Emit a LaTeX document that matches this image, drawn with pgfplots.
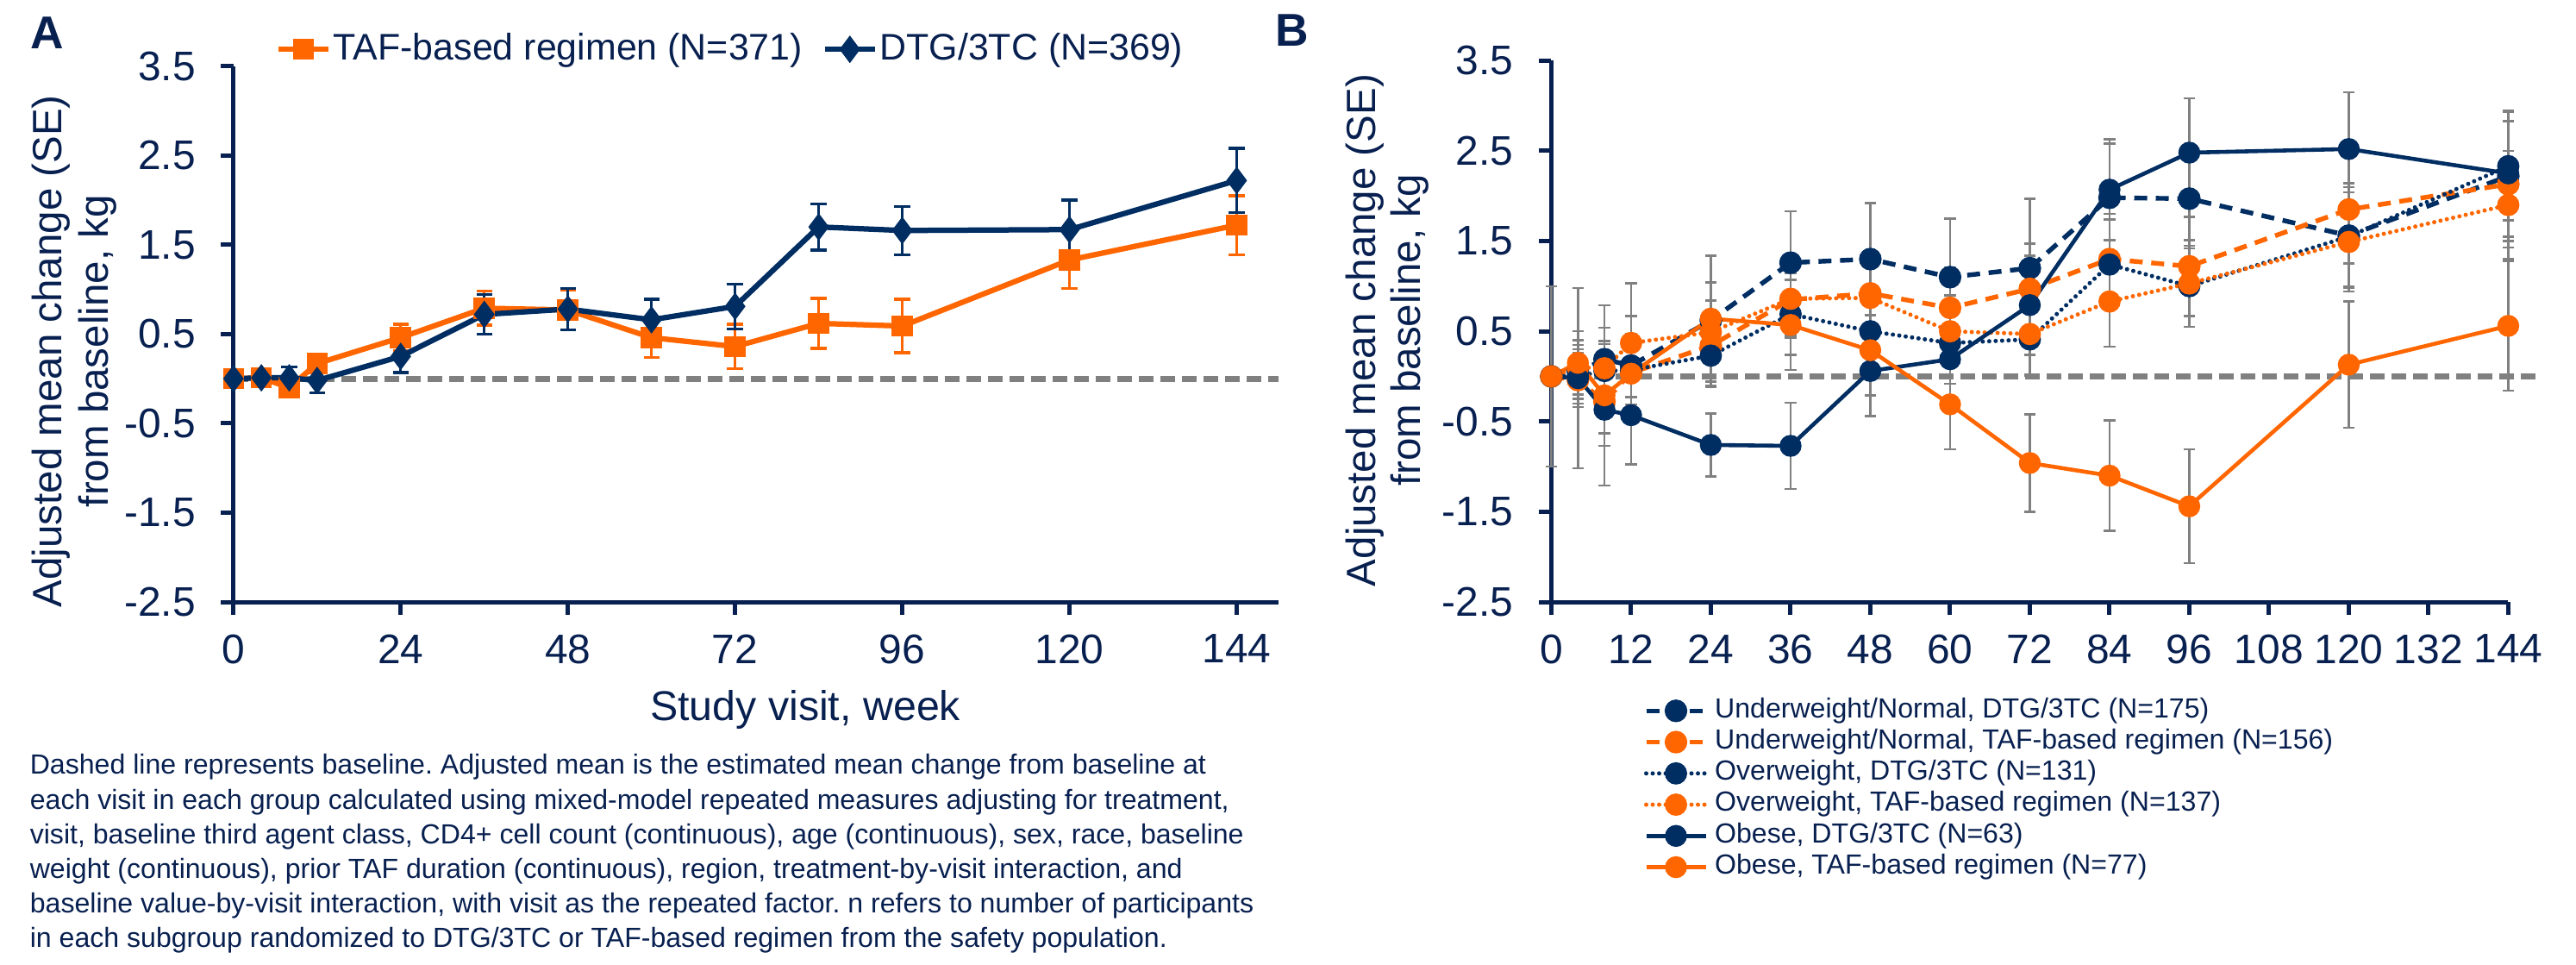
\documentclass[border=0pt]{standalone}
\usepackage{pgfplots}
\pgfplotsset{compat=1.18}
\usepackage{fontspec}
\setmainfont{Liberation Sans}
\definecolor{navy}{RGB}{0,45,98}
\definecolor{txt}{RGB}{8,32,80}
\definecolor{orng}{RGB}{255,102,0}
\definecolor{bgray}{RGB}{128,128,128}
\newcommand\fs[2]{\fontsize{#1}{#2}\selectfont}

\pgfplotstableread{
x y e
0 0 0
4 0.01 0.06
8 -0.10 0.08
12 0.17 0.10
24 0.46 0.15
36 0.79 0.19
48 0.77 0.22
60 0.46 0.22
72 0.36 0.25
84 0.62 0.28
96 0.59 0.30
120 1.33 0.32
144 1.72 0.33
}\aTAF
\pgfplotstableread{
x y e
0 0 0
4 0.01 0.06
8 0.01 0.12
12 -0.02 0.14
24 0.25 0.18
36 0.72 0.22
48 0.78 0.23
60 0.66 0.23
72 0.81 0.25
84 1.70 0.26
96 1.66 0.27
120 1.67 0.33
144 2.22 0.36
}\aDTG

\pgfplotstableread{
x y e
0 0 0
4 0.05 0.30
8 0.19 0.35
12 0.12 0.35
24 0.62 0.72
36 1.26 0.57
48 1.30 0.62
60 1.10 0.65
72 1.20 0.77
84 1.98 0.60
96 1.97 0.55
120 1.56 0.58
144 2.22 0.72
}\bUNDTG
\pgfplotstableread{
x y e
0 0 0
4 -0.04 0.30
8 -0.28 0.35
12 0.04 0.35
24 0.34 0.40
36 0.85 0.42
48 0.92 0.45
60 0.76 0.45
72 0.97 0.50
84 1.30 0.50
96 1.22 0.55
120 1.85 0.60
144 2.13 0.70
}\bUNTAF
\pgfplotstableread{
x y e
0 0 0
4 0.00 0.30
8 0.06 0.30
12 0.07 0.30
24 0.23 0.35
36 0.69 0.45
48 0.50 0.40
60 0.37 0.45
72 0.41 0.40
84 1.24 0.50
96 1.00 0.45
120 1.55 0.55
144 2.33 0.60
}\bOWDTG
\pgfplotstableread{
x y e
0 0 0
4 0.10 0.30
8 0.09 0.30
12 0.37 0.30
24 0.49 0.35
36 0.86 0.40
48 0.87 0.40
60 0.50 0.40
72 0.47 0.45
84 0.83 0.50
96 1.03 0.48
120 1.49 0.55
144 1.90 0.60
}\bOWTAF
\pgfplotstableread{
x y e
0 0 0
4 -0.02 1.00
8 -0.37 0.40
12 -0.43 0.55
24 -0.76 0.35
36 -0.77 0.48
48 0.06 0.50
60 0.19 0.50
72 0.79 0.55
84 2.07 0.56
96 2.48 0.60
120 2.52 0.63
144 2.25 0.70
}\bOBDTG
\pgfplotstableread{
x y e
0 0 1.00
4 0.15 0.35
8 -0.21 1.00
12 0.03 1.00
24 0.64 0.40
36 0.57 0.50
48 0.29 0.50
60 -0.31 0.50
72 -0.96 0.54
84 -1.10 0.61
96 -1.44 0.63
120 0.13 0.70
144 0.56 0.72
}\bOBTAF

\pgfplotsset{
  panel/.style={
    scale only axis, clip=false,
    ymin=-2.5, ymax=3.5,
    axis x line*=bottom, axis y line*=left,
    axis line style={txt, line width=1.2pt},
    ytick={-2.5,-1.5,-0.5,0.5,1.5,2.5,3.5},
    yticklabels={-2.5,-1.5,-0.5,0.5,1.5,2.5,3.5},
    tick align=outside, major tick length=3.5pt,
    tick style={txt, line width=1.2pt},
    tick label style={font=\fs{11.5}{13}, text=txt},
    yticklabel style={xshift=-3.5pt},
    xticklabel style={yshift=-2pt},
    error bars/y dir=both, error bars/y explicit,
  },
}

\begin{document}
\frenchspacing
\begin{tikzpicture}
\path[use as bounding box] (0,0) rectangle (717.12pt,268.32pt);

% ---------------- Panel A ----------------
\begin{axis}[panel,
  at={(65.0pt,100.8pt)}, anchor=south west,
  width=290.9pt, height=149.1pt,
  xmin=0, xmax=150,
  xtick={0,24,48,72,96,120,144},
  xticklabels={0,24,48,72,96,120,144},
  legend columns=2,
  legend style={at={(0.0396,1.0315)}, anchor=west, draw=none, fill=none,
    inner sep=0pt, font=\fs{10.3}{12}, text=txt, column sep=0.6pt,
    nodes={inner sep=0pt},
    /tikz/every even column/.append style={column sep=5.4pt}},
  legend image code/.code={\draw[mark repeat=2,mark phase=2,#1] plot coordinates {(0pt,0pt) (7pt,0pt) (14pt,0pt)};},
]
\addplot[bgray, line width=1.7pt, dash pattern=on 4pt off 2pt, forget plot] coordinates {(0,0) (150,0)};
\addplot[orng, line width=1.5pt, mark=square*, mark size=2.2pt, mark options={solid},
  error bars/error bar style={orng, line width=0.8pt},
  error bars/error mark options={rotate=90, orng, mark size=2.2pt, line width=0.8pt}]
  table[x=x, y=y, y error=e] {\aTAF};
\addlegendentry{TAF-based regimen (N=371)}
\addplot[navy, line width=1.5pt, mark=diamond*, mark size=2.6pt, mark options={solid},
  error bars/error bar style={navy, line width=0.8pt},
  error bars/error mark options={rotate=90, navy, mark size=2.2pt, line width=0.8pt}]
  table[x=x, y=y, y error=e] {\aDTG};
\addlegendentry{DTG/3TC (N=369)}
\end{axis}

% ---------------- Panel B ----------------
\begin{axis}[panel,
  at={(431.86pt,100.8pt)}, anchor=south west,
  width=266.4pt, height=150.65pt,
  xmin=0, xmax=144,
  xtick={0,12,24,36,48,60,72,84,96,108,120,132,144},
  xticklabels={0,12,24,36,48,60,72,84,96,108,120,132,144},
  every axis plot/.append style={
    error bars/error bar style={bgray, line width=0.6pt, solid},
    error bars/error mark options={rotate=90, bgray, mark size=1.6pt, line width=0.6pt, solid}},
  legend style={at={(0.0960,-0.171)}, anchor=north west, draw=none, fill=none,
    inner sep=0pt, font=\fs{7.7}{9}, text=txt, column sep=1.9pt, row sep=0pt,
    nodes={inner sep=0pt, text height=6.2pt, text depth=2.5pt}},
  legend cell align=left,
  legend image code/.code={\draw[mark repeat=2,mark phase=2,#1] plot coordinates {(0pt,0pt) (8.28pt,0pt) (16.56pt,0pt)};},
]
\addplot[bgray, line width=1.7pt, dash pattern=on 4pt off 2pt, forget plot] coordinates {(0,0) (148.7,0)};
\addplot[navy, line width=1.3pt, dash pattern=on 3.6pt off 2.4pt, mark=*, mark size=2.5pt, mark options={solid}]
  table[x=x, y=y, y error=e] {\bUNDTG};
\addlegendentry{Underweight/Normal, DTG/3TC (N=175)}
\addplot[orng, line width=1.3pt, dash pattern=on 3.6pt off 2.4pt, mark=*, mark size=2.5pt, mark options={solid}]
  table[x=x, y=y, y error=e] {\bUNTAF};
\addlegendentry{Underweight/Normal, TAF-based regimen (N=156)}
\addplot[navy, line width=1.2pt, line cap=round, dash pattern=on 0pt off 1.8pt, mark=*, mark size=2.5pt, mark options={solid}]
  table[x=x, y=y, y error=e] {\bOWDTG};
\addlegendentry{Overweight, DTG/3TC (N=131)}
\addplot[orng, line width=1.2pt, line cap=round, dash pattern=on 0pt off 1.8pt, mark=*, mark size=2.5pt, mark options={solid}]
  table[x=x, y=y, y error=e] {\bOWTAF};
\addlegendentry{Overweight, TAF-based regimen (N=137)}
\addplot[navy, line width=1.1pt, mark=*, mark size=2.5pt]
  table[x=x, y=y, y error=e] {\bOBDTG};
\addlegendentry{Obese, DTG/3TC (N=63)}
\addplot[orng, line width=1.1pt, mark=*, mark size=2.5pt]
  table[x=x, y=y, y error=e] {\bOBTAF};
\addlegendentry{Obese, TAF-based regimen (N=77)}
\end{axis}

% ---------------- Labels ----------------
\node[font=\bfseries\fs{12.8}{15}, text=txt] at (13.2pt,259.2pt) {A};
\node[font=\bfseries\fs{12.8}{15}, text=txt] at (359.8pt,260.0pt) {B};
\node[rotate=90, align=center, font=\fs{11.4}{12.96}, text=txt] at (20.6pt,170.6pt)
  {Adjusted mean change (SE)\\from baseline, kg};
\node[rotate=90, align=center, font=\fs{11.4}{12.5}, text=txt] at (386.2pt,176.4pt)
  {Adjusted mean change (SE)\\from baseline, kg};
\node[font=\fs{11.6}{14}, text=txt] at (224.2pt,70.8pt) {Study visit, week};
\node[anchor=north west, inner sep=0pt, align=left, font=\fs{7.7}{9.65}, text=txt] at (8.16pt,58.6pt)
  {Dashed line represents baseline. Adjusted mean is the estimated mean change from baseline at\\
   each visit in each group calculated using mixed-model repeated measures adjusting for treatment,\\
   visit, baseline third agent class, CD4+ cell count (continuous), age (continuous), sex, race, baseline\\
   weight (continuous), prior TAF duration (continuous), region, treatment-by-visit interaction, and\\
   baseline value-by-visit interaction, with visit as the repeated factor. n refers to number of participants\\
   in each subgroup randomized to DTG/3TC or TAF-based regimen from the safety population.};
\end{tikzpicture}
\end{document}
